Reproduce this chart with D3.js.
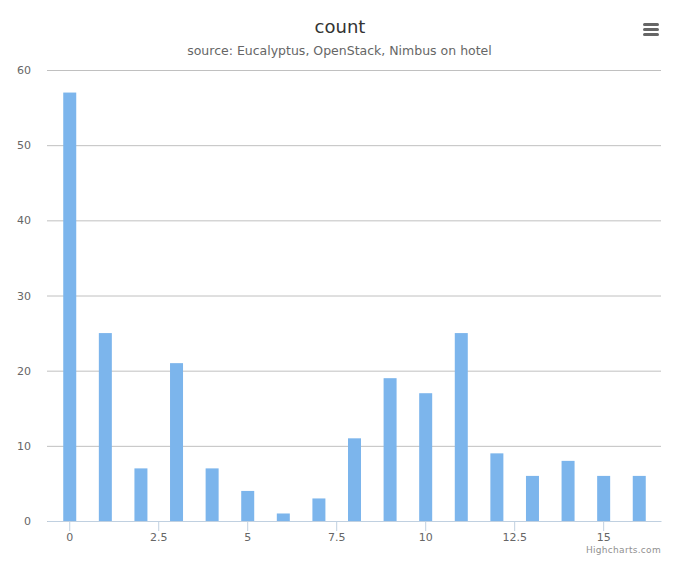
<!DOCTYPE html>
<html>
  <head>
    <meta charset="utf-8">
    <title>count</title>
    <script src="https://cdn.jsdelivr.net/npm/d3@7"></script>
    <style>
      body { margin: 0; background: #fff; }
      text { font-family: "DejaVu Sans", sans-serif; }
    </style>
  </head>
  <body>
    <script>

      // values
      var categories = [0, 1, 2, 3, 4, 5, 6, 7, 8, 9, 10, 11, 12, 13, 14, 15, 16];
      var counts = [57, 25, 7, 21, 7, 4, 1, 3, 11, 19, 17, 25, 9, 6, 8, 6, 6];
      var xTicks = [0, 2.5, 5, 7.5, 10, 12.5, 15];
      var yTicks = [0, 10, 20, 30, 40, 50, 60];

      var width = 680, height = 566;
      var plot = { left: 47, right: 661, top: 70, bottom: 521 };

      var svg = d3.select("body")
                  .append("svg")
                  .attr("width", width)
                  .attr("height", height);

      var x = d3.scaleLinear().domain([-0.625, 16.625]).range([plot.left, plot.right]);
      var y = d3.scaleLinear().domain([0, 60]).range([plot.bottom, plot.top]);

      // gridlines + y labels
      var yAxis = d3.axisLeft(y)
                    .tickValues(yTicks)
                    .tickSize(-(plot.right - plot.left))
                    .tickPadding(16)
                    .tickFormat(d3.format("d"));
      var gy = svg.append("g")
                  .attr("transform", "translate(" + plot.left + ",0)")
                  .call(yAxis);
      gy.select(".domain").remove();
      gy.selectAll("line").attr("stroke", "#c0c0c0");
      gy.selectAll("text")
        .attr("fill", "#666")
        .style("font-size", "11px")
        .attr("dy", "0.32em");

      // bars
      var barW = 13;
      svg.append("g")
         .selectAll("rect")
         .data(counts)
         .enter()
         .append("rect")
         .attr("x", function(d, i) { return x(categories[i]) - barW / 2 + 0.5; })
         .attr("width", barW)
         .attr("y", function(d) { return y(d); })
         .attr("height", function(d) { return y(0) - y(d); })
         .attr("fill", "#7cb5ec");

      // x axis
      var xAxis = d3.axisBottom(x)
                    .tickValues(xTicks)
                    .tickSize(10)
                    .tickPadding(2)
                    .tickSizeOuter(0)
                    .tickFormat(function(d) { return d; });
      var gx = svg.append("g")
                  .attr("transform", "translate(0," + plot.bottom + ")")
                  .call(xAxis);
      gx.select(".domain").attr("stroke", "#c0d0e0");
      gx.selectAll("line").attr("stroke", "#c0d0e0");
      gx.selectAll("text")
        .attr("fill", "#666")
        .style("font-size", "11px");

      // titles
      svg.append("text")
         .attr("x", width / 2)
         .attr("y", 33)
         .attr("text-anchor", "middle")
         .attr("fill", "#333")
         .style("font-size", "18px")
         .text("count");

      svg.append("text")
         .attr("x", width / 2 - 0.5)
         .attr("y", 55)
         .attr("text-anchor", "middle")
         .attr("fill", "#666")
         .style("font-size", "12.5px")
         .text("source: Eucalyptus, OpenStack, Nimbus on hotel");

      // export menu icon
      var menu = svg.append("g").attr("transform", "translate(643,23)");
      [0, 5, 10].forEach(function(dy) {
        menu.append("rect")
            .attr("x", 0).attr("y", dy)
            .attr("width", 16).attr("height", 3)
            .attr("rx", 1.5)
            .attr("fill", "#666");
      });

      // credits
      svg.append("text")
         .attr("x", 661)
         .attr("y", 553)
         .attr("text-anchor", "end")
         .attr("fill", "#909090")
         .style("font-size", "9px")
         .style("letter-spacing", "0.3px")
         .text("Highcharts.com");

    </script>
  </body>
</html>
